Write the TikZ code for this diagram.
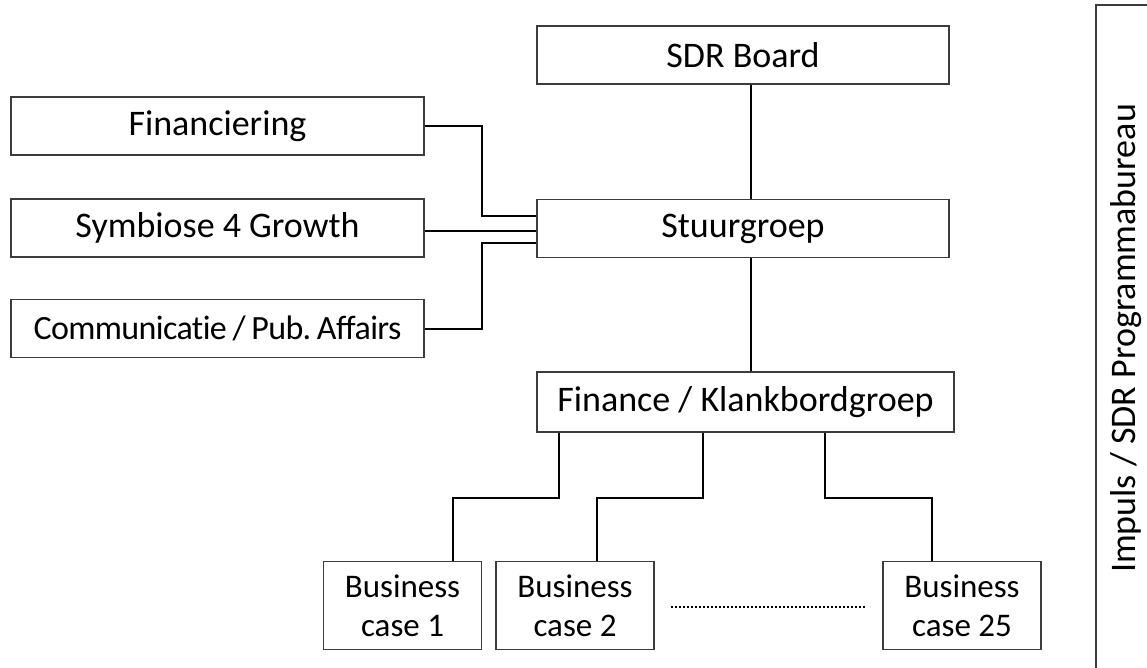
\documentclass[tikz,border=0pt]{standalone}
\usepackage{fontspec}
\setmainfont{Carlito}
\newfontfamily\commfont[LetterSpace=-1.8, Ligatures=NoCommon]{Carlito}
\usepackage{xcolor}
\usepackage{tikz}
\usetikzlibrary{positioning, calc}
\definecolor{boxgray}{RGB}{60, 60, 60}
\tikzstyle{orgbox} = [
    rectangle,
    draw=boxgray,
    line width=1.5pt,
    minimum width=413pt,
    minimum height=58pt,
    inner sep=0pt,
    text centered,
    font=\fontsize{36}{40}\selectfont
]
\tikzstyle{casebox} = [
    orgbox,
    minimum width=158pt,
    minimum height=88pt,
    align=center,
    font=\fontsize{33}{39}\selectfont
]
\tikzstyle{link} = [
    line width=2pt,
    color=black
]

\begin{document}
\begin{tikzpicture}[x=1pt, y=-1pt]
        \useasboundingbox (0,0) rectangle (1147,668);

        % Main line
        \node[orgbox, minimum width=412pt] (sdrboard) at (743,55) {SDR Board};
        \node[orgbox, minimum width=412pt] (stuurgroep) at (743,228.5) {Stuurgroep};
        \node[orgbox, minimum width=417pt, minimum height=60pt] (klank) at (745.5,402) {Finance / Klankbordgroep};

        % Side groups
        \node[orgbox] (fin) at (217.5,126) {Financiering};
        \node[orgbox] (symb) at (217.5,228) {Symbiose 4 Growth};
        \node[orgbox, font=\commfont\fontsize{34}{38}\selectfont] (comm) at (217.5,328.5) {Communicatie\,/\,Pub.\,Affairs};

        % Business cases
        \node[casebox] (bc1) at (402.5,605.5) {Business\\case 1};
        \node[casebox] (bc2) at (575,605.5) {Business\\case 2};
        \node[casebox] (bc25) at (962,605.5) {Business\\case 25};

        % Programme office
        \node[orgbox, minimum width=60pt, minimum height=680pt] (impuls) at (1126,345) {};
        \node[rotate=90, font=\fontsize{36}{40}\selectfont] (impulstext) at (1126,338.5) {Impuls / SDR Programmabureau};

        % Lines
        \draw[link] ([xshift=8pt]sdrboard.south) -- ([xshift=8pt]stuurgroep.north);
        \draw[link] ([xshift=8pt]stuurgroep.south) -- ([xshift=5.5pt]klank.north);
        \draw[link] (fin.east) -- ++(57,0) |- ([yshift=12.5pt]stuurgroep.west);
        \draw[link] ([yshift=-3pt]symb.east) -- ([yshift=-2.5pt]stuurgroep.west);
        \draw[link] (comm.east) -- ++(57,0) |- ([yshift=-14.5pt]stuurgroep.west);
        \draw[link] ([xshift=-186.5pt]klank.south) -- ++(0,65) -| ([xshift=50.5pt]bc1.north);
        \draw[link] ([xshift=-42.5pt]klank.south) -- ++(0,65) -| ([xshift=22pt]bc2.north);
        \draw[link] ([xshift=79.5pt]klank.south) -- ++(0,65) -| ([xshift=-30pt]bc25.north);
        \draw[line width=2pt, dash pattern=on 2pt off 2pt, shorten <=16pt, shorten >=16pt] ([yshift=-1.5pt]bc2.east) -- ([yshift=-1.5pt]bc25.west);
    \end{tikzpicture}
\end{document}
